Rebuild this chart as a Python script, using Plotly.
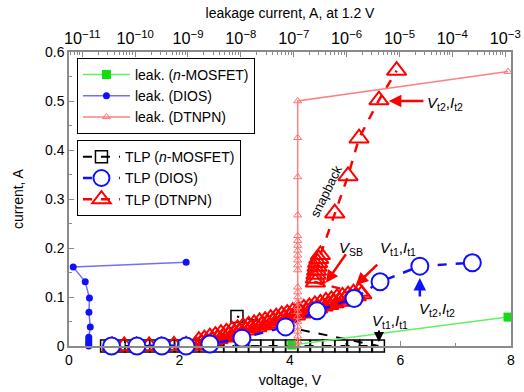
import plotly.graph_objects as go

# ---------------- data ----------------
# TLP n-MOSFET (voltage V, current A)
tlp_nmos_v = [0.68, 0.9, 1.12, 1.35, 1.57, 1.8, 2.02, 2.24, 2.47, 2.69, 2.91, 3.14, 3.36,
              3.58, 3.81, 4.03, 4.25, 4.48, 4.7, 4.92, 5.15, 5.37, 5.6, 3.04]
tlp_nmos_i = [0.0, 0.0, 0.0, 0.0, 0.0, 0.0, 0.0, 0.0, 0.0, 0.0,
              0.0, 0.0, 0.0, 0.0, 0.0, 0.0, 0.0, 0.0, 0.0, 0.0,
              0.0, 0.0, 0.0, 0.060]

# TLP DIOS
tlp_dios_v = [0.77, 1.23, 1.68, 2.12, 2.55, 3.13, 3.92, 4.49, 5.16, 5.63, 6.35, 7.30]
tlp_dios_i = [0.0, 0.0, 0.0, 0.0, 0.004, 0.016, 0.039, 0.072, 0.097, 0.131, 0.163, 0.170]

# TLP DTNPN
tlp_dtnpn_v = [0.78, 1.0, 1.22, 1.45, 1.67, 1.9, 2.12,
               2.30, 2.35, 2.40, 2.45, 2.50, 2.55, 2.60, 2.65, 2.70, 2.75, 2.80, 2.85, 2.90,
               2.95, 3.00, 3.05, 3.10, 3.15, 3.20, 3.25, 3.30, 3.35, 3.40, 3.45, 3.50, 3.55,
               3.60, 3.65, 3.70, 3.75, 3.80, 3.85, 3.90, 3.95, 4.00, 4.05, 4.10, 4.15, 4.20,
               4.25, 4.30, 4.35, 4.40, 4.45, 4.50, 4.55, 4.60, 4.65, 4.70, 4.75, 4.80, 4.85,
               4.90, 4.95, 5.00, 5.05, 5.10, 5.15, 5.20, 5.25, 5.30,
               4.46, 4.46, 4.47, 4.48, 4.49, 4.50, 4.52, 4.55,
               4.81, 5.05, 5.25, 5.61, 5.93]
tlp_dtnpn_i = [0.0, 0.0, 0.0, 0.0, 0.0, 0.001, 0.001,
               0.001, 0.011, 0.005, 0.014, 0.008, 0.018, 0.011, 0.021, 0.015, 0.025, 0.018,
               0.028, 0.022, 0.032, 0.025, 0.035, 0.029, 0.039, 0.032, 0.042, 0.036, 0.045,
               0.039, 0.049, 0.043, 0.052, 0.046, 0.056, 0.050, 0.059, 0.053, 0.063, 0.057,
               0.066, 0.060, 0.070, 0.063, 0.073, 0.067, 0.077, 0.070, 0.080, 0.074, 0.084,
               0.077, 0.087, 0.081, 0.091, 0.084, 0.094, 0.088, 0.098, 0.091, 0.101, 0.095,
               0.104, 0.098, 0.108, 0.102, 0.111, 0.106,
               0.130, 0.138, 0.146, 0.154, 0.162, 0.170, 0.178, 0.186,
               0.271, 0.347, 0.424, 0.502, 0.562]

# leakage (leakage current A at 1.2 V, TLP current A)
leak_nmos_x = [9.2e-8, 1.13e-3]
leak_nmos_i = [0.002, 0.059]

leak_dios_x = [1.33e-11, 1.33e-11, 1.33e-11, 1.33e-11, 1.33e-11, 1.42e-11, 1.34e-11, 1.37e-11,
               1.14e-11, 6.76e-12, 9.25e-10]
leak_dios_i = [0.0, 0.004, 0.008, 0.013, 0.018, 0.039, 0.069, 0.098, 0.131, 0.161, 0.171]

leak_dtnpn_x = [1.19e-7] * 25 + [1.13e-3]
leak_dtnpn_i = [0.0, 0.01, 0.02, 0.03, 0.04, 0.05, 0.06, 0.07, 0.08, 0.09, 0.10, 0.11, 0.12,
                0.155, 0.165, 0.175, 0.185, 0.195, 0.205, 0.215, 0.225,
                0.267, 0.345, 0.425, 0.500, 0.560]

FONT = "Liberation Sans, Arial, Helvetica, sans-serif"
GRAY = "#8a8a8a"

fig = go.Figure()

# TLP traces (bottom axis)
fig.add_trace(go.Scatter(
    x=tlp_nmos_v, y=tlp_nmos_i, mode="lines+markers", name="TLP (<i>n</i>-MOSFET)",
    line=dict(color="black", width=2, dash="dash"),
    marker=dict(symbol="square-open", size=12, color="black", line=dict(width=1.5)),
    legend="legend2", legendrank=1, cliponaxis=False))
fig.add_trace(go.Scatter(
    x=tlp_dtnpn_v, y=tlp_dtnpn_i, mode="lines+markers", name="TLP (DTNPN)",
    line=dict(color="red", width=2.5, dash="dash"),
    marker=dict(symbol="triangle-up-open", size=17, color="red", line=dict(width=2)),
    legend="legend2", legendrank=3, cliponaxis=False))
fig.add_trace(go.Scatter(
    x=tlp_dios_v, y=tlp_dios_i, mode="lines+markers", name="TLP (DIOS)",
    line=dict(color="#1010ff", width=2.5, dash="dash"),
    marker=dict(symbol="circle", size=17, color="white", line=dict(width=2, color="#1010ff")),
    legend="legend2", legendrank=2, cliponaxis=False))

# leakage traces (top log axis)
fig.add_trace(go.Scatter(
    x=leak_nmos_x, y=leak_nmos_i, xaxis="x2", mode="lines+markers", name="leak. (<i>n</i>-MOSFET)",
    line=dict(color="#66ee66", width=1.5),
    marker=dict(symbol="square", size=9, color="#11dd11"),
    legend="legend", legendrank=1, cliponaxis=False))
fig.add_trace(go.Scatter(
    x=leak_dios_x, y=leak_dios_i, xaxis="x2", mode="lines+markers", name="leak. (DIOS)",
    line=dict(color="#7070ff", width=1.5),
    marker=dict(symbol="circle", size=7, color="#1010ff"),
    legend="legend", legendrank=2, cliponaxis=False))
fig.add_trace(go.Scatter(
    x=leak_dtnpn_x, y=leak_dtnpn_i, xaxis="x2", mode="lines+markers", name="leak. (DTNPN)",
    line=dict(color="#ff8080", width=1.5),
    marker=dict(symbol="triangle-up-open", size=7, color="#ff7070", line=dict(width=1)),
    legend="legend", legendrank=3, cliponaxis=False))

lbl = dict(font=dict(family=FONT, size=15, color="black"), showarrow=False,
           xref="x", yref="y", xanchor="left")
annotations = [
    dict(text="<i>V</i><sub>t2</sub>,<i>I</i><sub>t2</sub>", x=6.45, y=0.495, **lbl),
    dict(text="<i>V</i><sub>SB</sub>", x=4.85, y=0.198, **lbl),
    dict(text="<i>V</i><sub>t1</sub>,<i>I</i><sub>t1</sub>", x=5.6, y=0.198, **lbl),
    dict(text="<i>V</i><sub>t2</sub>,<i>I</i><sub>t2</sub>", x=6.3, y=0.075, **lbl),
    dict(text="<i>V</i><sub>t1</sub>,<i>I</i><sub>t1</sub>", x=5.45, y=0.050, **lbl),
    dict(text="snapback", x=4.65, y=0.316, xref="x", yref="y", showarrow=False,
         textangle=-64, font=dict(family=FONT, size=13, color="black")),
]
arr = dict(text="", showarrow=True, xref="x", yref="y", arrowhead=2, arrowsize=1)
annotations += [
    dict(x=5.79, y=0.500, ax=36, ay=0, arrowcolor="red", arrowwidth=2.5, **arr),
    dict(x=4.65, y=0.129, ax=21, ay=-30, arrowcolor="red", arrowwidth=2.5, **arr),
    dict(x=5.19, y=0.124, ax=23, ay=-22, arrowcolor="red", arrowwidth=2.5, **arr),
    dict(x=6.35, y=0.139, ax=0, ay=20, arrowcolor="#1010ff", arrowwidth=2.5, **arr),
    dict(x=5.61, y=0.008, ax=0, ay=-13, arrowcolor="black", arrowwidth=2, **arr),
]

axcommon = dict(showgrid=False, zeroline=False, showline=True, linecolor=GRAY, linewidth=1.5,
                ticks="inside", tickcolor=GRAY, ticklen=5, automargin=False,
                ticklabeloverflow="allow",
                title_font=dict(family=FONT, size=14, color="black"))

fig.update_layout(
    width=524, height=392,
    margin=dict(l=69, r=13, t=52, b=46),
    paper_bgcolor="white", plot_bgcolor="white",
    font=dict(family=FONT, size=13, color="black"),
    xaxis=dict(range=[0, 8], dtick=2, title=dict(text="voltage, V", standoff=9),
               tickfont=dict(family=FONT, size=14, color="black"),
               minor=dict(dtick=1, ticks="inside", ticklen=3, tickcolor=GRAY), **axcommon),
    xaxis2=dict(type="log", range=[-11.25, -2.89], dtick=1, overlaying="x", side="top", anchor="y",
                exponentformat="power", title=dict(text="leakage current, A, at 1.2 V", standoff=6),
                tickfont=dict(family=FONT, size=13, color="black"),
                minor=dict(dtick="D1", ticks="inside", ticklen=3, tickcolor=GRAY), **axcommon),
    yaxis=dict(range=[0, 0.6], dtick=0.1, mirror=True, title=dict(text="current, A", standoff=18),
               tickfont=dict(family=FONT, size=14, color="black"),
               minor=dict(dtick=0.05, ticks="inside", ticklen=3, tickcolor=GRAY), **axcommon),
    legend=dict(x=0.018, y=0.98, xanchor="left", yanchor="top", bgcolor="white",
                bordercolor="black", borderwidth=1, font=dict(family=FONT, size=14),
                tracegroupgap=0, itemclick=False, itemwidth=47),
    legend2=dict(x=0.018, y=0.70, xanchor="left", yanchor="top", bgcolor="white",
                 bordercolor="black", borderwidth=1, font=dict(family=FONT, size=14),
                 tracegroupgap=0, itemclick=False, itemwidth=37),
    annotations=annotations,
    showlegend=True,
)

fig.write_html("out.html", config={"displayModeBar": False},
               post_script="document.body.style.margin='0px';")
